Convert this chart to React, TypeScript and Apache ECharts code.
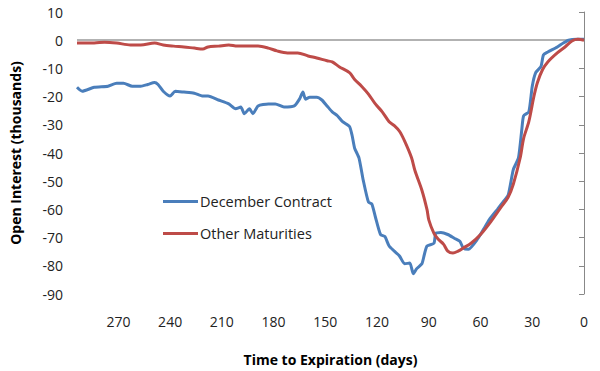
import React, { useEffect, useRef } from "react";
import * as echarts from "echarts";

const seriesNames = ["December Contract", "Other Maturities"];

const decDays = [294, 291, 284, 276, 271, 267, 262, 257, 253, 249, 247, 244, 240, 237, 232, 226, 221, 218, 212, 206, 202, 199, 197, 194, 192, 189, 183, 179, 174, 168, 165, 163, 161.5, 159, 155, 152, 149, 146, 143, 140, 136, 134.5, 133, 130.5, 128, 125, 123, 121, 118, 115.5, 113, 110, 107, 104, 101, 99, 97, 94, 92.5, 91, 87, 86, 83, 79, 75, 72, 70, 67, 61.5, 58, 55, 50, 47, 44, 41, 38, 36, 35, 32, 30, 28, 25, 23.5, 21, 15.5, 12, 9, 4, 0];
const decValues = [-16.7, -18.1, -16.7, -16.3, -15.3, -15.3, -16.3, -16.3, -15.7, -15.0, -15.7, -18.1, -19.8, -18.1, -18.4, -18.8, -19.8, -19.8, -21.2, -22.6, -24.3, -23.7, -26.1, -24.3, -26.1, -23.3, -22.6, -22.6, -23.7, -23.3, -20.9, -18.4, -20.9, -20.2, -20.2, -21.2, -23.3, -25.4, -26.8, -28.9, -30.6, -33.7, -38.3, -41.7, -49.7, -57.4, -58.1, -62.6, -68.9, -69.6, -73.0, -74.8, -76.5, -79.3, -79.0, -82.8, -81.0, -79.3, -75.8, -73.0, -72.0, -68.5, -68.2, -68.9, -70.3, -71.3, -73.7, -74.1, -70.3, -66.8, -63.7, -59.8, -57.4, -55.0, -45.9, -41.7, -31.3, -26.8, -25.4, -16.3, -11.5, -9.4, -5.2, -4.2, -2.4, -1.0, 0, 0.3, 0.3];

const otherDays = [294, 284, 278, 271, 263, 257, 249, 244, 238, 232, 226, 221, 218, 212, 206, 201, 195, 189, 183, 178, 172, 166, 160, 155, 149, 146, 142, 136, 133, 129, 125, 121, 117, 113, 110, 107, 104, 100, 98, 94, 91, 90, 87, 84.5, 81.5, 79, 76, 73, 70, 65.5, 60, 54, 48, 44, 41, 37, 35, 32, 29, 27, 24, 21, 15.5, 11, 7, 3.5, 0];
const otherValues = [-1.0, -1.0, -0.7, -1.0, -1.7, -1.7, -1.0, -1.7, -2.1, -2.4, -2.8, -3.1, -2.4, -2.1, -1.7, -2.1, -2.1, -2.1, -2.8, -3.8, -4.5, -4.5, -5.6, -6.3, -7.3, -7.7, -9.4, -11.5, -13.9, -16.3, -19.1, -22.6, -25.4, -28.9, -30.3, -32.3, -35.8, -41.7, -46.3, -53.2, -60.2, -63.7, -68.5, -70.6, -72.3, -74.8, -75.5, -74.8, -73.7, -72.0, -68.9, -64.3, -59.1, -55.7, -51.1, -41.7, -34.8, -28.9, -19.8, -15.0, -10.4, -7.7, -4.5, -2.4, -0.3, 0.3, 0];

const xTickLabels = [270, 240, 210, 180, 150, 120, 90, 60, 30, 0];
const yTickLabels = [10, 0, -10, -20, -30, -40, -50, -60, -70, -80, -90];

const FONT = "Open Sans";

export default function App() {
  const ref = useRef<HTMLDivElement>(null);
  useEffect(() => {
    if (!ref.current) return;
    const chart = echarts.init(ref.current, undefined, { renderer: "svg" });
    const dec = decDays.map((d, i) => [d, decValues[i]]);
    const oth = otherDays.map((d, i) => [d, otherValues[i]]);
    chart.setOption({
      animation: false,
      backgroundColor: "#ffffff",
      grid: { left: 72, right: 16, top: 12, bottom: 71.5, containLabel: false },
      legend: {
        orient: "vertical",
        left: 163,
        top: 194,
        padding: 0,
        icon: "rect",
        itemWidth: 35,
        itemHeight: 3,
        itemGap: 17,
        textStyle: { fontFamily: FONT, fontSize: 14.5, color: "#222", lineHeight: 14, padding: [0, 0, 0, -3] },
        data: seriesNames,
      },
      xAxis: {
        type: "value",
        inverse: true,
        min: 0,
        max: 294,
        interval: 30,
        name: "Time to Expiration (days)",
        nameLocation: "middle",
        nameGap: 58,
        nameTextStyle: { fontFamily: FONT, fontSize: 14, fontWeight: "bold", color: "#000" },
        axisLine: { show: false },
        axisTick: { show: false },
        splitLine: { show: false },
        axisLabel: {
          margin: 20,
          fontFamily: FONT,
          fontSize: 14,
          color: "#222",
          showMaxLabel: false,
          formatter: (v: number) => (xTickLabels.includes(v) ? String(v) : ""),
        },
      },
      yAxis: {
        type: "value",
        min: -90,
        max: 10,
        interval: 10,
        name: "Open Interest (thousands)",
        nameLocation: "middle",
        nameGap: 55,
        nameTextStyle: { fontFamily: FONT, fontSize: 14, fontWeight: "bold", color: "#000" },
        axisLine: { show: true, lineStyle: { color: "#888", width: 1 } },
        axisTick: { show: true, inside: false, length: 5, lineStyle: { color: "#888" } },
        splitLine: { show: false },
        axisLabel: {
          margin: 14,
          fontFamily: FONT,
          fontSize: 14,
          color: "#222",
          formatter: (v: number) => (yTickLabels.includes(v) ? String(v) : ""),
        },
      },
      series: [
        {
          name: seriesNames[0],
          type: "line",
          data: dec,
          symbol: "none",
          smooth: 0.2,
          lineStyle: { color: "#4A7EBB", width: 3 },
          itemStyle: { color: "#4A7EBB" },
          z: 3,
          markLine: {
            silent: true,
            symbol: "none",
            label: { show: false },
            lineStyle: { color: "#999", type: "solid", width: 1.5 },
            data: [{ yAxis: 0 }],
            z: 1,
          },
        },
        {
          name: seriesNames[1],
          type: "line",
          data: oth,
          symbol: "none",
          smooth: 0.3,
          lineStyle: { color: "#BE4B48", width: 3 },
          itemStyle: { color: "#BE4B48" },
          z: 4,
        },
      ],
    });
    return () => chart.dispose();
  }, []);
  return <div ref={ref} style={{ width: 600, height: 371, position: "absolute", left: 0, top: 0 }} />;
}
